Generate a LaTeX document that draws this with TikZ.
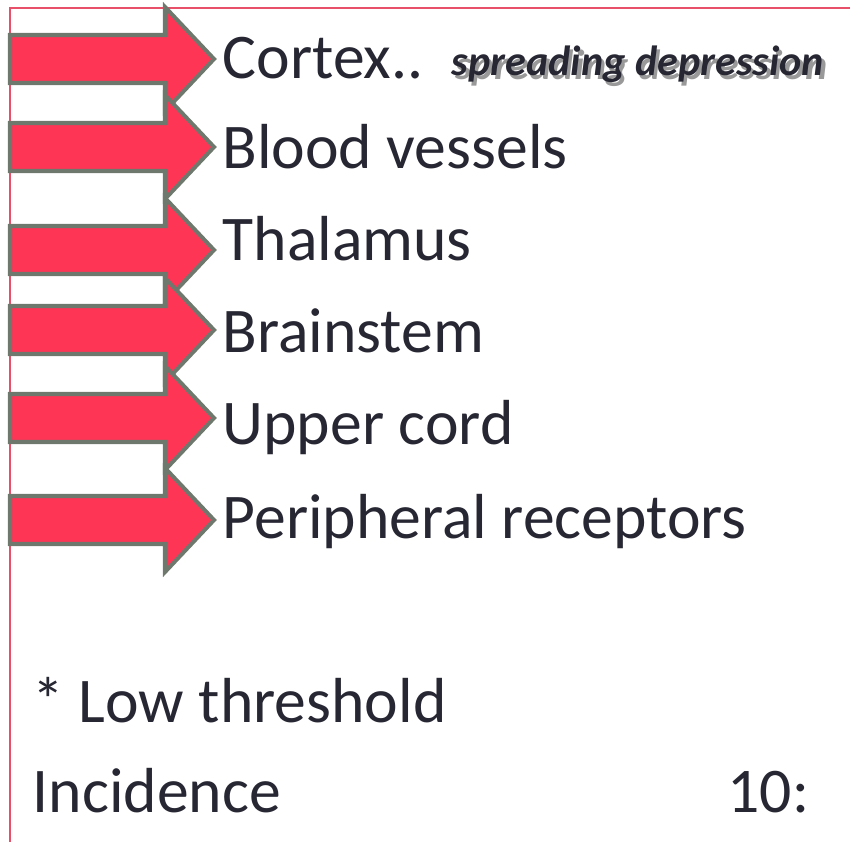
\documentclass[tikz,border=0pt]{standalone}
\usepackage{fontspec}
\setmainfont{Carlito}
\usepackage{xcolor}
\definecolor{framered}{HTML}{E8506A}
\definecolor{limbred}{HTML}{FF3555}
\definecolor{limbgray}{HTML}{6E786D}
\definecolor{inkdark}{HTML}{272733}
\newcommand{\shadowtext}[1]{\makebox[0pt][l]{\hspace{1pt}\raisebox{-1.2pt}{\color{black!40}#1}}#1}
\tikzset{
  frameline/.style={
    draw=framered,
    line width=0.6pt
  },
  limbarrow/.style={
    draw=limbgray,
    fill=limbred,
    line width=1.15pt,
    line join=miter
  },
  sitelabel/.style={
    anchor=base west,
    inner sep=0pt,
    text=inkdark,
    font=\fontsize{18.1}{22}\selectfont
  },
  notelabel/.style={
    anchor=base west,
    inner sep=0pt,
    text=inkdark,
    font=\fontsize{12}{14}\selectfont\bfseries\itshape
  }
}
\begin{document}
\begin{tikzpicture}[x=0.01cm, y=-0.01cm]
\useasboundingbox (0,0) rectangle (850,842);
% frame
\draw[frameline] (850,8) -- (10,8) -- (10,842);
% arrows
\foreach \y in {59,147,250,330,418,520}
  \draw[limbarrow] (10,\y-24) -- (165,\y-24) -- (165,\y-52) -- (214,\y)
    -- (165,\y+52) -- (165,\y+24) -- (10,\y+24) -- cycle;
% sites
\node[sitelabel] (cortex) at (222,78) {Cortex..};
\node[notelabel] (spread) at (451,75) {\shadowtext{spreading depression}};
\node[sitelabel] (vessels) at (222,168) {Blood vessels};
\node[sitelabel] (thalamus) at (222,260) {Thalamus};
\node[sitelabel] (brainstem) at (222,352) {Brainstem};
\node[sitelabel] (cord) at (222,445) {Upper cord};
\node[sitelabel] (receptors) at (222,538) {Peripheral receptors};
% footer
\node[sitelabel] (threshold) at (32,722) {* Low threshold};
\node[sitelabel] (incidence) at (32,813) {Incidence};
\node[sitelabel] (ratio) at (727,813) {10:};
\end{tikzpicture}
\end{document}
